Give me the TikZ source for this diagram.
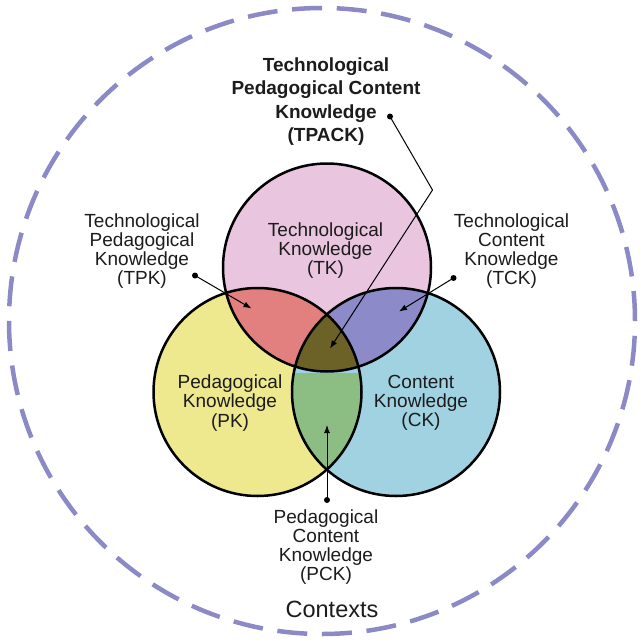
\documentclass[tikz,border=0pt]{standalone}
\usepackage{fontspec}
\setmainfont{Liberation Sans}
\usetikzlibrary{arrows.meta}
\definecolor{tkc}{RGB}{233,197,223}
\definecolor{pkc}{RGB}{238,232,142}
\definecolor{ckc}{RGB}{160,210,226}
\definecolor{tpkc}{RGB}{226,128,128}
\definecolor{tckc}{RGB}{140,138,200}
\definecolor{pckc}{RGB}{140,190,132}
\definecolor{tpackc}{RGB}{108,98,40}
\definecolor{ctxc}{RGB}{140,138,198}
\definecolor{txt}{RGB}{28,28,28}
\tikzset{
  lab/.style={align=center,inner sep=0pt,text=txt,font=\fontsize{19}{19.2}\selectfont},
  boldlab/.style={align=center,inner sep=0pt,text=txt,font=\fontsize{19}{23.4}\selectfont\bfseries},
  ctxlab/.style={inner sep=0pt,text=txt,font=\fontsize{23.5}{26}\selectfont},
  outline/.style={draw=black,line width=2.5pt},
  ctxline/.style={draw=ctxc,line width=4.5pt,dash pattern=on 30pt off 14.7pt},
  dotnode/.style={circle,fill=black,inner sep=0pt,minimum size=6pt},
  pointer/.style={draw=black,line width=1pt,-{Latex[length=8pt,width=6pt]}}
}
\begin{document}
\begin{tikzpicture}[x=1pt,y=-1pt]
\useasboundingbox (0,0) rectangle (640,640);
\fill[white] (0,0) rectangle (640,640);
\coordinate (T) at (327,267.5);
\coordinate (P) at (257.5,392);
\coordinate (C) at (396,392);
% base fills
\fill[tkc] (T) circle[radius=104pt];
\fill[pkc] (P) circle[radius=104pt];
\fill[ckc] (C) circle[radius=104pt];
% pairwise intersections
\begin{scope}
  \clip (T) circle[radius=104pt];
  \fill[tpkc] (P) circle[radius=104pt];
  \fill[tckc] (C) circle[radius=104pt];
  \clip (P) circle[radius=104pt];
  \fill[tpackc] (C) circle[radius=104pt];
\end{scope}
\begin{scope}
  \clip (P) circle[radius=104pt];
  \clip (C) circle[radius=104pt];
  \fill[pckc] (T) ++(-200,105) rectangle ++(400,300);
\end{scope}
% outlines
\draw[outline] (T) circle[radius=104pt];
\draw[outline] (P) circle[radius=104pt];
\draw[outline] (C) circle[radius=104pt];
% contexts circle
\draw[ctxline] (322,321) circle[radius=313pt];
% labels
\node[boldlab] (tpack) at (326,101.5) {Technological\\Pedagogical Content\\Knowledge\\(TPACK)};
\node[lab] (tpk) at (142,251) {Technological\\Pedagogical\\Knowledge\\(TPK)};
\node[lab] (tck) at (511.5,251) {Technological\\Content\\Knowledge\\(TCK)};
\node[lab] (tk) at (325.5,250.5) {Technological\\Knowledge\\(TK)};
\node[lab] (pk) at (230,403) {Pedagogical\\Knowledge\\(PK)};
\node[lab] (ck) at (421,403) {Content\\Knowledge\\(CK)};
\node[lab] (pck) at (326,547) {Pedagogical\\Content\\Knowledge\\(PCK)};
\node[ctxlab] (ctx) at (332,609) {Contexts};
% pointers
\node[dotnode] (tpackdot) at (390,116.5) {};
\node[dotnode] (tpkdot) at (195,275.5) {};
\node[dotnode] (tckdot) at (453.5,278) {};
\node[dotnode] (pckdot) at (327,500) {};
\coordinate (tpackbend) at (432.5,190);
\coordinate (tpacktip) at (330,348.5);
\coordinate (tpktip) at (251.5,308.5);
\coordinate (tcktip) at (399,311.5);
\coordinate (pcktip) at (327,425);
\draw[pointer] (tpackdot.center) -- (tpackbend) -- (tpacktip);
\draw[pointer] (tpkdot.center) -- (tpktip);
\draw[pointer] (tckdot.center) -- (tcktip);
\draw[pointer] (pckdot.center) -- (pcktip);
\end{tikzpicture}
\end{document}
